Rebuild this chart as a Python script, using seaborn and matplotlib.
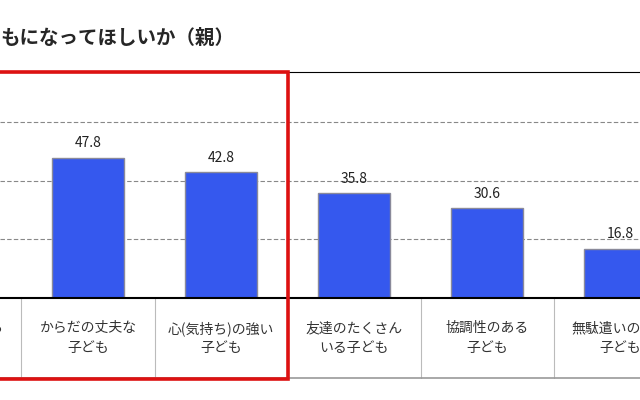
import matplotlib.pyplot as plt
import matplotlib.patches as mpatches
import matplotlib.transforms as mtransforms
import seaborn as sns
import pandas as pd

categories = ['思いやりのある\n子ども', 'からだの丈夫な\n子ども', '心(気持ち)の強い\n子ども',
              '友達のたくさん\nいる子ども', '協調性のある\n子ども', '無駄遣いのない\n子ども']
values = [55.0, 47.8, 42.8, 35.8, 30.6, 16.8]
title = 'もになってほしいか（親）'

sns.set_style('white')
plt.rcParams['font.family'] = ['Noto Sans CJK JP', 'DejaVu Sans']

df = pd.DataFrame({'cat': categories, 'val': values})

fig = plt.figure(figsize=(6.4, 4), dpi=100)
ax = fig.add_axes([0, (400 - 298) / 400, 1, 226 / 400])
sns.barplot(data=df, x='cat', y='val', ax=ax, color='#3558EE', width=0.54,
            edgecolor='#8a8a9a', linewidth=1, saturation=1)
x0 = 1 - 88 / 133
ax.set_xlim(x0, x0 + 640 / 133)
ax.set_ylim(0, 77)
ax.set_yticks([20, 40, 60])
ax.yaxis.grid(True, linestyle=(0, (4, 2)), color='#888888', linewidth=0.8)
ax.set_axisbelow(True)
ax.set_xticks([])
ax.set_yticklabels([])
ax.set_xlabel('')
ax.set_ylabel('')
for s in ['left', 'right']:
    ax.spines[s].set_visible(False)
ax.spines['top'].set_color('black')
ax.spines['bottom'].set_color('black')
ax.spines['bottom'].set_linewidth(1.5)

for i, v in enumerate(values):
    ax.text(i, v + 2.5, f'{v:.1f}', ha='center', va='bottom', fontsize=10, color='#222222')

# label cells below the axis
trans = mtransforms.blended_transform_factory(ax.transData, ax.transAxes)
cell_bottom = (298 - 378) / 226
for i, c in enumerate(categories):
    ax.text(i, cell_bottom / 2, c, transform=trans, ha='center', va='center',
            fontsize=10, color='#333333', linespacing=1.5, clip_on=False)
    ax.plot([i - 0.5, i - 0.5], [0, cell_bottom], transform=trans, color='#bbbbbb',
            linewidth=0.8, clip_on=False)
ax.plot([x0, x0 + 640 / 133], [cell_bottom, cell_bottom], transform=trans,
        color='#999999', linewidth=1.2, clip_on=False)

# red highlight box (in figure pixels)
rect = mpatches.Rectangle((-10, 400 - 379), 298, 307, transform=None,
                          fill=False, edgecolor='#dd1111', linewidth=2.6)
fig.patches.append(rect)

fig.text(0.0, (400 - 38) / 400, title, fontsize=14, fontweight='bold', va='center', ha='left')

fig.savefig('out.png', dpi=100)
